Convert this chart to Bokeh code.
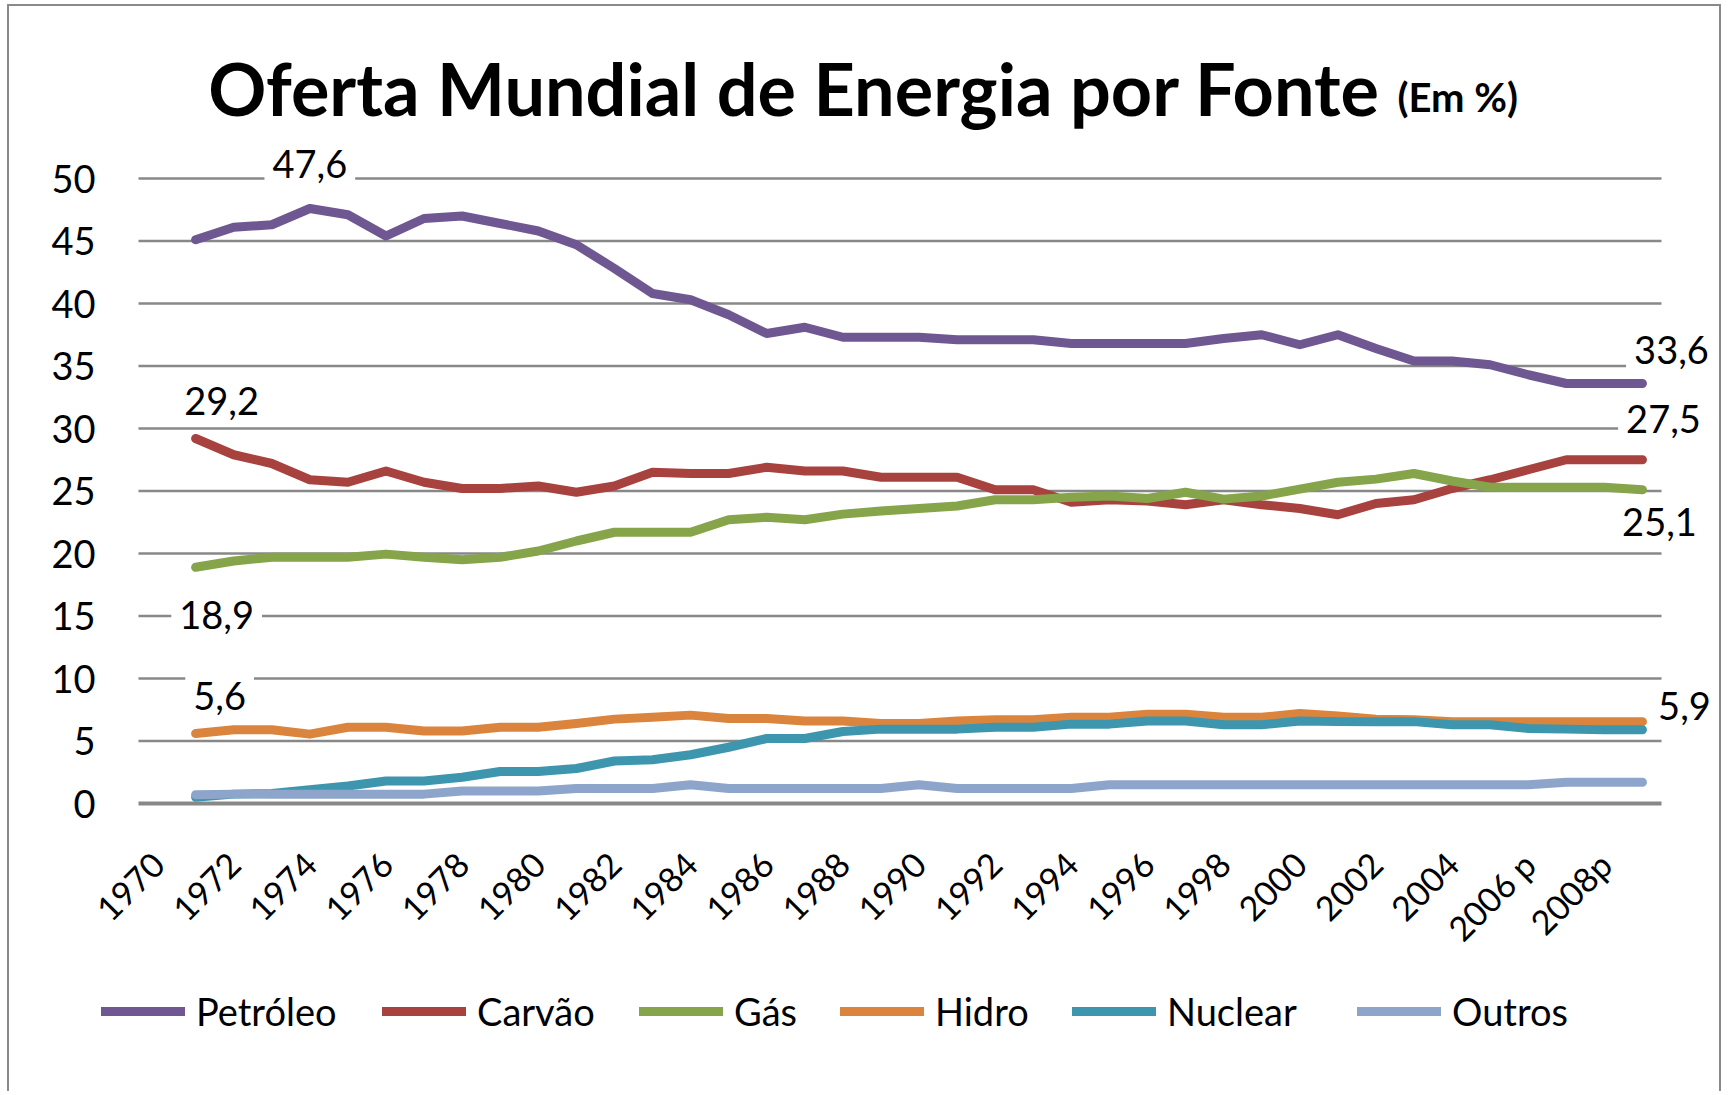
import math
from bokeh.plotting import figure
from bokeh.models import Range1d, FixedTicker, Label, Legend, LegendItem
from bokeh.embed import file_html
from bokeh.resources import INLINE

NAN = float("nan")

# ---------------- data ----------------
categorias = [str(a) for a in range(1970, 2006)] + ["2006 p", "2007 p", "2008p", "2009p"]

petroleo = [NAN, 45.1, 46.1, 46.3, 47.6, 47.1, 45.4, 46.8, 47.0, 46.4, 45.8,
            44.7, 42.8, 40.8, 40.3, 39.1, 37.6, 38.1, 37.3, 37.3, 37.3,
            37.1, 37.1, 37.1, 36.8, 36.8, 36.8, 36.8, 37.2, 37.5, 36.7,
            37.5, 36.4, 35.4, 35.4, 35.1, 34.3, 33.6, 33.6, 33.6]
carvao = [NAN, 29.2, 27.9, 27.2, 25.9, 25.7, 26.6, 25.7, 25.2, 25.2, 25.4,
          24.9, 25.4, 26.5, 26.4, 26.4, 26.9, 26.6, 26.6, 26.1, 26.1,
          26.1, 25.1, 25.1, 24.1, 24.3, 24.2, 23.9, 24.3, 23.9, 23.6,
          23.1, 24.0, 24.3, 25.2, 25.9, 26.7, 27.5, 27.5, 27.5]
gas = [NAN, 18.9, 19.4, 19.7, 19.7, 19.7, 19.95, 19.7, 19.5, 19.7, 20.2,
       21.0, 21.7, 21.7, 21.7, 22.7, 22.9, 22.7, 23.15, 23.4, 23.6,
       23.8, 24.3, 24.3, 24.5, 24.6, 24.4, 24.9, 24.35, 24.6, 25.15,
       25.7, 25.95, 26.4, 25.8, 25.3, 25.3, 25.3, 25.3, 25.1]
hidro = [NAN, 5.6, 5.9, 5.9, 5.55, 6.1, 6.1, 5.8, 5.8, 6.1, 6.1,
         6.4, 6.75, 6.9, 7.07, 6.8, 6.8, 6.6, 6.6, 6.4, 6.4,
         6.6, 6.7, 6.7, 6.9, 6.9, 7.15, 7.15, 6.9, 6.9, 7.2,
         7.0, 6.75, 6.7, 6.55, 6.55, 6.55, 6.55, 6.55, 6.55]
nuclear = [NAN, 0.5, 0.75, 0.8, 1.1, 1.4, 1.8, 1.8, 2.1, 2.56, 2.56,
           2.8, 3.4, 3.5, 3.9, 4.5, 5.2, 5.2, 5.76, 5.95, 5.95,
           5.95, 6.1, 6.1, 6.35, 6.35, 6.6, 6.6, 6.3, 6.3, 6.6,
           6.55, 6.55, 6.55, 6.3, 6.3, 6.0, 5.95, 5.9, 5.9]
outros = [NAN, 0.7, 0.75, 0.75, 0.75, 0.75, 0.75, 0.75, 1.0, 1.0, 1.0,
          1.2, 1.2, 1.2, 1.5, 1.2, 1.2, 1.2, 1.2, 1.2, 1.5,
          1.2, 1.2, 1.2, 1.2, 1.5, 1.5, 1.5, 1.5, 1.5, 1.5,
          1.5, 1.5, 1.5, 1.5, 1.5, 1.5, 1.7, 1.7, 1.7]

nomes = ["Petróleo", "Carvão", "Gás", "Hidro", "Nuclear", "Outros"]
valores = [petroleo, carvao, gas, hidro, nuclear, outros]
cores = ["#6F5792", "#A8423F", "#86A44A", "#DB843D", "#3D96AE", "#8EA5CB"]

ticks_y = list(range(0, 51, 5))

titulo = "Oferta Mundial de Energia por Fonte"
subtitulo = "(Em %)"

# data labels: (series index, category index, dx px, dy px)
rotulos = [(0, 4, 0, 45), (1, 1, 26, 38), (2, 1, 21, -48), (3, 1, 24, 38),
           (0, 39, 29, 34), (1, 39, 21, 41), (2, 39, 17, -32), (4, 39, 42, 24)]

# ---------------- layout (page pixels) ----------------
FONT = "Lato"
MARGIN_T, MARGIN_L, BORDER = 4, 7, 2
W, H = 1714, 1087
PAGE_X0, PAGE_Y0 = MARGIN_L + BORDER, MARGIN_T + BORDER   # figure content origin
AX_L, AX_R = 138, 1661             # category axis span
Y0_PAGE, Y50_PAGE = 803, 178       # page y of value 0 and of value 50
FR_L, FR_R = 97, PAGE_X0 + W       # drawing frame
FR_T, FR_B = 20, PAGE_Y0 + H
N = len(categorias)

px_per_cat = (AX_R - AX_L) / N
px_per_unit = (Y0_PAGE - Y50_PAGE) / 50.0

def px_x(px):
    return (px - AX_L) / px_per_cat

def px_y(py):
    return (Y0_PAGE - py) / px_per_unit

xs = [i + 0.5 for i in range(N)]

p = figure(width=W, height=H, output_backend="svg", toolbar_location=None,
           x_axis_location=None,
           x_range=Range1d(px_x(FR_L), px_x(FR_R)),
           y_range=Range1d(px_y(FR_B), px_y(FR_T)),
           min_border_left=FR_L - PAGE_X0, min_border_top=FR_T - PAGE_Y0,
           min_border_right=0, min_border_bottom=0)
p.margin = (MARGIN_T, 0, 0, MARGIN_L)
bd = "%dpx solid #8a8a8a" % BORDER
p.styles = {"border-left": bd, "border-top": bd, "border-right": bd}
p.outline_line_color = None
p.background_fill_color = "white"
p.border_fill_color = "white"
p.xgrid.grid_line_color = None
p.ygrid.grid_line_color = None

# horizontal gridlines over the category span
p.segment(x0=[0] * len(ticks_y), x1=[N] * len(ticks_y), y0=ticks_y, y1=ticks_y,
          line_color="#888888", line_width=[4 if t == 0 else 2.5 for t in ticks_y])

# value axis
p.yaxis.ticker = FixedTicker(ticks=ticks_y)
p.yaxis.axis_line_color = None
p.yaxis.major_tick_line_color = None
p.yaxis.minor_tick_line_color = None
p.yaxis.major_label_standoff = -4
p.yaxis.major_label_text_font = FONT
p.yaxis.major_label_text_font_size = "38px"
p.yaxis.major_label_text_color = "black"

# category labels (every other year), rotated 45 degrees below the axis
tick_shift = 0.02
idx = list(range(0, N, 2))
p.text(x=[xs[i] + tick_shift for i in idx], y=[px_y(858)] * len(idx),
       text=[categorias[i] for i in idx], angle=math.pi / 4,
       text_align="right", text_baseline="middle",
       text_font={"value": FONT}, text_font_size="34px", text_color="black")

rends = []
for nome, vals, cor in zip(nomes, valores, cores):
    r = p.line(xs, vals, line_color=cor, line_width=9,
               line_cap="round", line_join="round")
    rends.append(r)

# legend items placed like the original
leg_px = [101, 382, 639, 840, 1072, 1357]
for nome, r, lx in zip(nomes, rends, leg_px):
    lg = Legend(items=[LegendItem(label=nome, renderers=[r])],
                location=(lx - FR_L, FR_B - 1034),
                orientation="horizontal", padding=0, margin=0,
                glyph_width=84, glyph_height=40, label_height=40,
                label_standoff=11, border_line_color=None,
                background_fill_alpha=0,
                label_text_font=FONT, label_text_font_size="38px",
                label_text_color="black")
    p.add_layout(lg)

# data labels
for si, ci, dx, dy in rotulos:
    v = valores[si][ci]
    txt = ("%.1f" % v).replace(".", ",")
    p.add_layout(Label(x=xs[ci], y=v, x_offset=dx, y_offset=dy, text=txt,
                       text_align="center", text_baseline="middle",
                       text_font=FONT, text_font_size="38px", text_color="black",
                       background_fill_color="white", padding=8))

# title
p.add_layout(Label(x=px_x(1380), y=px_y(87), text=titulo, text_align="right",
                   text_baseline="alphabetic", text_font=FONT,
                   text_font_size="72px", text_font_style="bold", text_color="black"))
p.add_layout(Label(x=px_x(1397), y=px_y(96), text=subtitulo, text_align="left",
                   text_baseline="alphabetic", text_font=FONT,
                   text_font_size="40px", text_font_style="bold", text_color="black"))

open("out.html", "w").write(file_html(p, INLINE))
